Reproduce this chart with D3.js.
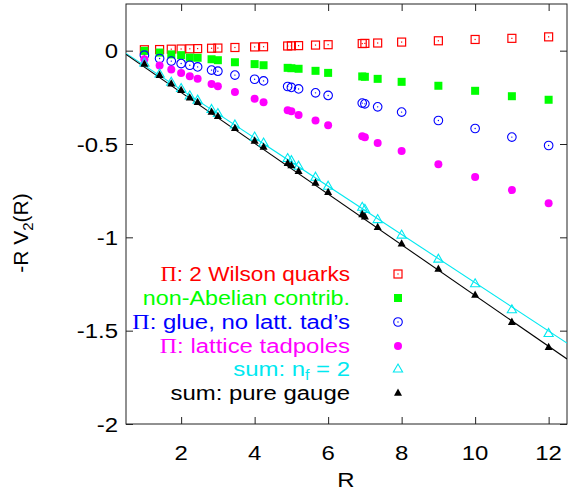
<!DOCTYPE html>
<html><head><meta charset="utf-8">
<script src="https://cdn.jsdelivr.net/npm/d3@7"></script>
<style>body{margin:0;background:#fff}svg{display:block}</style>
</head><body>
<svg id="c" width="572" height="494"></svg>
<script>
// ---- data ----
const R = [1, 1.414, 1.732, 2, 2.236, 2.449, 2.828, 3, 3.464, 4, 4.243, 4.899, 5, 5.196, 5.657, 6, 6.928, 7, 7.348, 8, 9, 10, 11, 12];
const wilson = [0.005,0.006,0.008,0.009,0.010,0.011,0.013,0.014,0.017,0.020,0.021,0.025,0.026,0.027,0.030,0.032,0.038,0.039,0.041,0.046,0.053,0.060,0.066,0.074];
const nonAbelian = [-0.001,-0.010,-0.020,-0.024,-0.037,-0.038,-0.046,-0.051,-0.062,-0.072,-0.078,-0.092,-0.094,-0.097,-0.108,-0.119,-0.138,-0.140,-0.151,-0.167,-0.188,-0.215,-0.244,-0.263];
const glue = [-0.024,-0.042,-0.056,-0.069,-0.078,-0.087,-0.104,-0.110,-0.131,-0.153,-0.162,-0.192,-0.197,-0.205,-0.226,-0.240,-0.281,-0.285,-0.301,-0.329,-0.374,-0.417,-0.463,-0.508];
const tadpoles = [-0.046,-0.079,-0.101,-0.119,-0.137,-0.151,-0.178,-0.190,-0.222,-0.258,-0.276,-0.319,-0.324,-0.344,-0.374,-0.399,-0.458,-0.464,-0.494,-0.538,-0.608,-0.677,-0.747,-0.818];
const sumNf2 = [-0.066,-0.125,-0.169,-0.203,-0.242,-0.265,-0.315,-0.337,-0.398,-0.463,-0.495,-0.578,-0.589,-0.619,-0.678,-0.726,-0.839,-0.850,-0.905,-0.988,-1.117,-1.249,-1.388,-1.515];
const sumPure = [-0.071,-0.131,-0.177,-0.212,-0.252,-0.276,-0.328,-0.351,-0.415,-0.483,-0.516,-0.603,-0.615,-0.646,-0.708,-0.758,-0.877,-0.889,-0.946,-1.034,-1.170,-1.309,-1.454,-1.589];
// straight-line fits: [intercept, slope]
const fitNf2 = [0.0497, -0.1293];
const fitPure = [0.048, -0.136];
const xTicks = [2, 4, 6, 8, 10, 12];
const yTicks = [0, -0.5, -1, -1.5, -2];
const yTickLabels = ["0", "-0.5", "-1", "-1.5", "-2"];

// ---- layout ----
const L = 126, Rt = 567, T = 4, B = 424;
const SX = 1.14; // horizontal text stretch
const FONT = "'Liberation Sans', Arial, Helvetica, sans-serif";
const svg = d3.select("#c");
const x = d3.scaleLinear().domain([0.5, 12.5]).range([L, Rt]);
const y = d3.scaleLinear().domain([-2, 0.25]).range([B, T]);

svg.append("defs").append("clipPath").attr("id","clip")
  .append("rect").attr("x",L).attr("y",T).attr("width",Rt-L).attr("height",B-T);

// axes with inward ticks (mirrored)
const tl = 7;
const axB = svg.append("g").attr("transform",`translate(0,${B})`)
  .call(d3.axisBottom(x).tickValues(xTicks).tickSize(-tl).tickFormat(""));
const axT = svg.append("g").attr("transform",`translate(0,${T})`)
  .call(d3.axisTop(x).tickValues(xTicks).tickSize(-tl).tickFormat(""));
const axL = svg.append("g").attr("transform",`translate(${L},0)`)
  .call(d3.axisLeft(y).tickValues(yTicks).tickSize(-tl).tickFormat(""));
const axR = svg.append("g").attr("transform",`translate(${Rt},0)`)
  .call(d3.axisRight(y).tickValues(yTicks).tickSize(-tl).tickFormat(""));
[axB,axT,axL,axR].forEach(g=>{ g.select(".domain").remove(); g.selectAll("line").attr("stroke","#222").attr("stroke-width",1); });
svg.append("rect").attr("x",L).attr("y",T).attr("width",Rt-L).attr("height",B-T)
  .attr("fill","none").attr("stroke","#222").attr("stroke-width",1);

// tick labels
function stext(g, tx, ty, str, anchor){
  return g.append("text").attr("transform",`translate(${tx},${ty}) scale(${SX},1)`)
    .attr("text-anchor",anchor).attr("font-family",FONT).attr("font-size",21).text(str);
}
xTicks.forEach(v=>stext(svg, x(v), 460, String(v), "middle"));
yTicks.forEach((v,i)=>stext(svg, 118, y(v)+7.5, yTickLabels[i], "end"));

// axis titles
stext(svg, 346, 487, "R", "middle");
const yt = svg.append("text").attr("transform","translate(28,233) rotate(-90)")
  .attr("text-anchor","middle").attr("font-family",FONT).attr("font-size",21);
yt.append("tspan").text("-R V");
yt.append("tspan").attr("font-size",15).attr("dy",5).text("2");
yt.append("tspan").attr("dy",-5).text("(R)");

// fit lines
const plot = svg.append("g").attr("clip-path","url(#clip)");
function fitLine(fit, color){
  const dom = x.domain();
  const pts = dom.map(r=>[r, fit[0]+fit[1]*r]);
  plot.append("path").attr("d", d3.line().x(d=>x(d[0])).y(d=>y(d[1]))(pts))
    .attr("fill","none").attr("stroke",color).attr("stroke-width",1.1);
}
fitLine(fitNf2, "#00e8f0");
fitLine(fitPure, "#000");

// marker drawers
const markers = {
  sqOpen: (g,c)=>{ g.append("rect").attr("x",-4).attr("y",-4).attr("width",8).attr("height",8).attr("fill","none").attr("stroke",c).attr("stroke-width",1.2);
                   g.append("rect").attr("x",-0.6).attr("y",-0.6).attr("width",1.2).attr("height",1.2).attr("fill",c); },
  sqFill: (g,c)=>{ g.append("rect").attr("x",-4).attr("y",-4).attr("width",8).attr("height",8).attr("fill",c); },
  cirOpen: (g,c)=>{ g.append("circle").attr("r",4.3).attr("fill","none").attr("stroke",c).attr("stroke-width",1.1);
                    g.append("circle").attr("r",0.7).attr("fill",c); },
  cirFill: (g,c)=>{ g.append("circle").attr("r",4).attr("fill",c); },
  triOpen: (g,c)=>{ g.append("path").attr("d","M0,-5L4.6,3L-4.6,3Z").attr("fill","none").attr("stroke",c).attr("stroke-width",1.1); },
  triFill: (g,c)=>{ g.append("path").attr("d","M0,-4.5L4,2.8L-4,2.8Z").attr("fill",c); }
};

const series = [
  {vals: wilson, color:"#ff0000", m:"sqOpen"},
  {vals: nonAbelian, color:"#00ff00", m:"sqFill"},
  {vals: glue, color:"#0000ff", m:"cirOpen"},
  {vals: tadpoles, color:"#ff00ff", m:"cirFill"},
  {vals: sumNf2, color:"#00e8f0", m:"triOpen"},
  {vals: sumPure, color:"#000000", m:"triFill"}
];
series.forEach(s=>{
  R.forEach((r,i)=>{
    const g = plot.append("g").attr("transform",`translate(${x(r)},${y(s.vals[i])})`);
    markers[s.m](g, s.color);
  });
});

// legend
const legY = [274, 298, 322, 346, 369, 393];
const legX = 350, symX = 398;
const SERIF = "'Liberation Serif', 'Times New Roman', serif";
const legends = [
  {sx:1.076, parts:[["Π",SERIF],[": 2 Wilson quarks"]]},
  {sx:1.11, parts:[["non-Abelian contrib."]]},
  {sx:1.14, parts:[["Π",SERIF],[": glue, no latt. tad’s"]]},
  {sx:1.14, parts:[["Π",SERIF],[": lattice tadpoles"]]},
  {sx:1.14, parts:[["sum: n"],["f",null,"sub"],[" = 2",null,"up"]]},
  {sx:1.14, parts:[["sum: pure gauge"]]}
];
legends.forEach((lg,i)=>{
  const s = series[i];
  const t = svg.append("text").attr("transform",`translate(${legX},${legY[i]+7}) scale(${lg.sx},1)`)
    .attr("text-anchor","end").attr("font-family",FONT).attr("font-size",21).attr("fill",s.color);
  lg.parts.forEach(p=>{
    const ts = t.append("tspan").text(p[0]);
    if (p[1]) ts.attr("font-family",p[1]);
    if (p[2]==="sub") ts.attr("font-size",14).attr("dy",4);
    if (p[2]==="up") ts.attr("dy",-4);
  });
  const g = svg.append("g").attr("transform",`translate(${symX},${legY[i]})`);
  markers[s.m](g, s.color);
});
</script>
</body></html>
